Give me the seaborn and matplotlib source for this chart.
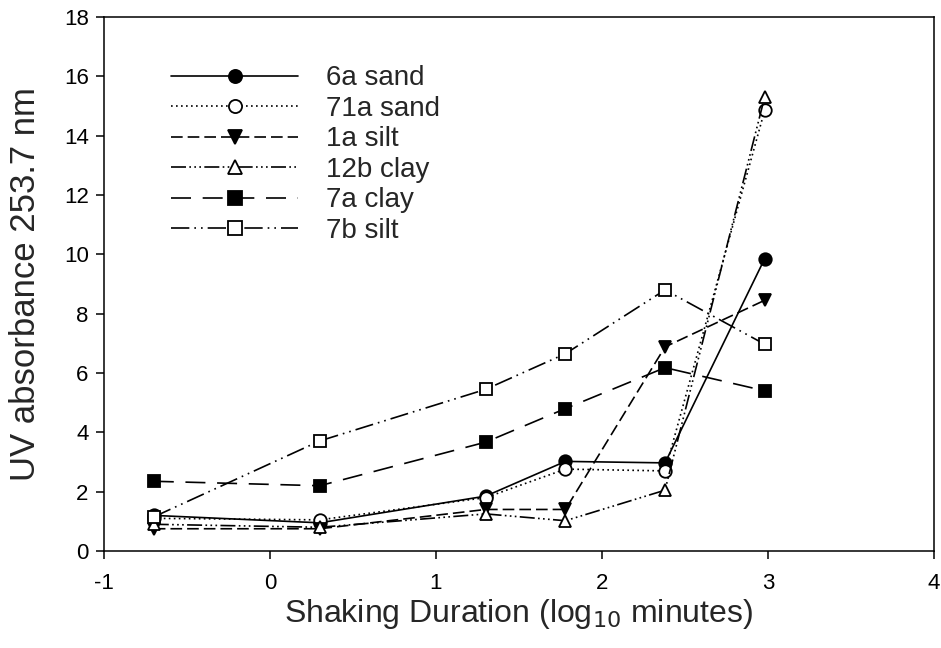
import matplotlib
matplotlib.use("Agg")
import matplotlib.pyplot as plt
import seaborn as sns
import pandas as pd

x_vals = [-0.70, 0.30, 1.30, 1.78, 2.38, 2.98]
s_6a_sand = [1.20, 0.95, 1.85, 3.02, 2.97, 9.85]
s_71a_sand = [1.10, 1.05, 1.80, 2.76, 2.70, 14.85]
s_1a_silt = [0.75, 0.75, 1.40, 1.40, 6.88, 8.45]
s_12b_clay = [0.90, 0.80, 1.25, 1.02, 2.05, 15.30]
s_7a_clay = [2.35, 2.20, 3.67, 4.80, 6.18, 5.40]
s_7b_silt = [1.15, 3.71, 5.45, 6.65, 8.80, 6.97]
labels = ["6a sand", "71a sand", "1a silt", "12b clay", "7a clay", "7b silt"]
series = [s_6a_sand, s_71a_sand, s_1a_silt, s_12b_clay, s_7a_clay, s_7b_silt]

x_ticks = [-1, 0, 1, 2, 3, 4]
y_ticks = [0, 2, 4, 6, 8, 10, 12, 14, 16, 18]

sns.set_theme(style="ticks")
plt.rcParams["font.family"] = ["Liberation Sans", "DejaVu Sans"]

styles = [
    dict(marker="o", mfc="black", ls="-"),
    dict(marker="o", mfc="white", ls=(0, (1, 2))),
    dict(marker="v", mfc="black", ls=(0, (7, 3))),
    dict(marker="^", mfc="white", ls=(0, (9, 2, 1, 2, 1, 2, 1, 2))),
    dict(marker="s", mfc="black", ls=(0, (12, 7))),
    dict(marker="s", mfc="white", ls=(0, (11, 3, 1, 3, 1, 3))),
]

fig = plt.figure(figsize=(9.41, 6.48), dpi=100)
ax = fig.add_axes([0.1105, 0.1497, 0.882, 0.8241])

for lab, vals, st in zip(labels, series, styles):
    df = pd.DataFrame({"x": x_vals, "y": vals})
    sns.lineplot(data=df, x="x", y="y", ax=ax, color="black", sort=False,
                 marker=st["marker"], markerfacecolor=st["mfc"],
                 markeredgecolor="black", markeredgewidth=1.3, markersize=9,
                 linestyle=st["ls"], linewidth=1.2, label=lab)

ax.set_xlim(-1, 4)
ax.set_ylim(0, 18)
ax.set_xticks(x_ticks)
ax.set_yticks(y_ticks)
ax.set_xticklabels([str(t) for t in x_ticks])
ax.set_yticklabels([str(t) for t in y_ticks])
ax.tick_params(direction="out", length=6, width=1.1, colors="black",
               labelsize=16, pad=5)
ax.tick_params(axis="x", pad=10)
for sp in ax.spines.values():
    sp.set_linewidth(1.1)
    sp.set_color("black")

ax.set_xlabel("Shaking Duration (log$_{10}$ minutes)", fontsize=23, labelpad=2)
ax.set_ylabel("UV absorbance 253.7 nm", fontsize=25, labelpad=16)

leg = ax.legend(loc="upper left", bbox_to_anchor=(0.067, 0.93), frameon=False,
                fontsize=20, handlelength=4.6, labelspacing=0.16, handletextpad=1.0,
                borderaxespad=0, markerscale=1.05)

fig.savefig("out.png", dpi=100)
